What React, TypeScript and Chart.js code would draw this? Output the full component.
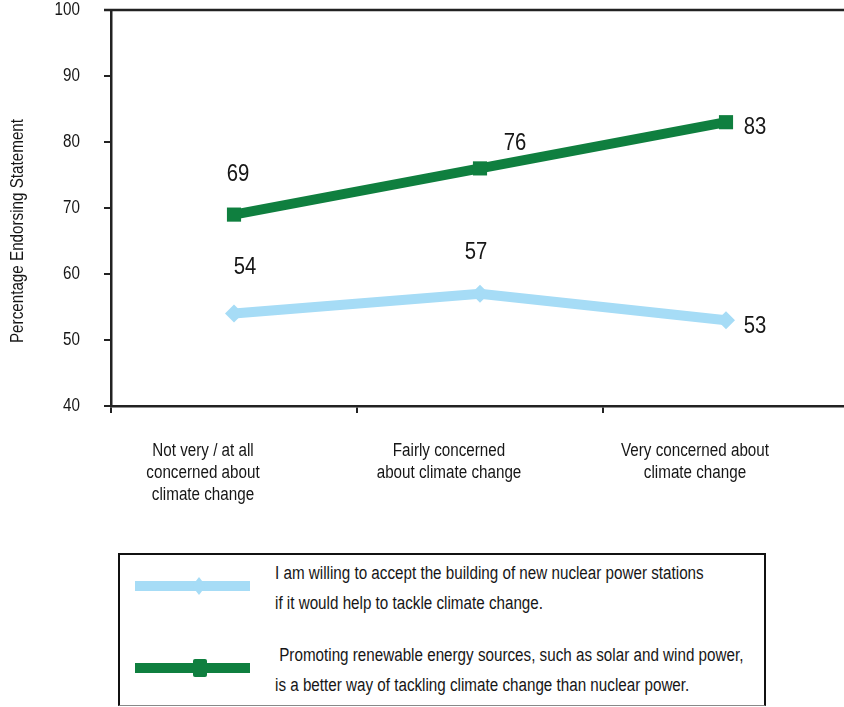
import React, { useEffect, useRef } from "react";
import { Chart, registerables } from "chart.js";

Chart.register(...registerables);

// Concern groups along the x axis (multi-line labels)
const categories: string[][] = [
  ["Not very / at all", "concerned about", "climate change"],
  ["Fairly concerned", "about climate change"],
  ["Very concerned about", "climate change"],
];

// Percentage endorsing each statement
const nuclearValues = [54, 57, 53];
const renewableValues = [69, 76, 83];

// Y axis range and step
const yMin = 40;
const yMax = 100;
const yStep = 10;

const yTitle = "Percentage Endorsing Statement";

const nuclearLegend = [
  "I am willing to accept the building of new nuclear power stations",
  "if it would help to tackle climate change.",
];
const renewableLegend = [
  " Promoting renewable energy sources, such as solar and wind power,",
  "is a better way of tackling climate change than nuclear power.",
];

const LIGHT_BLUE = "#a6dcf6";
const GREEN = "#0f7f3f";
const INK = "#161616";
const FONT = "'Liberation Sans', Arial, sans-serif";
// Horizontal squeeze giving the condensed face look
const NARROW = 0.845;

const CANVAS_W = 860;
const CANVAS_H = 540;

// Draws all canvas text horizontally condensed
const condensedText = {
  id: "condensedText",
  afterInit(chart: any) {
    const ctx = chart.ctx;
    const fill = ctx.fillText.bind(ctx);
    ctx.fillText = (text: string, x: number, y: number, maxWidth?: number) => {
      const w = ctx.measureText(text).width * NARROW;
      fill(text, x, y, maxWidth === undefined ? w : Math.min(w, maxWidth));
    };
  },
};

// Writes each point's value next to its marker
const valueLabels = {
  id: "valueLabels",
  afterDatasetsDraw(chart: any) {
    const ctx = chart.ctx;
    ctx.save();
    ctx.font = `24px ${FONT}`;
    ctx.fillStyle = INK;
    ctx.textAlign = "center";
    ctx.textBaseline = "middle";
    chart.data.datasets.forEach((ds: any, i: number) => {
      const meta = chart.getDatasetMeta(i);
      meta.data.forEach((pt: any, j: number) => {
        const [dx, dy] = ds.labelOffsets[j];
        ctx.fillText(String(ds.data[j]), pt.x + dx, pt.y + dy);
      });
    });
    ctx.restore();
  },
};

// Top frame line and the rotated y-axis title
const frame = {
  id: "frame",
  afterDraw(chart: any) {
    const { ctx, chartArea } = chart;
    ctx.save();
    ctx.strokeStyle = "#222";
    ctx.lineWidth = 2.5;
    ctx.beginPath();
    ctx.moveTo(chartArea.left - 7, chartArea.top);
    ctx.lineTo(chartArea.right, chartArea.top);
    ctx.stroke();

    ctx.translate(chartArea.left - 93, (chartArea.top + chartArea.bottom) / 2 + 23);
    ctx.rotate(-Math.PI / 2);
    ctx.font = `18px ${FONT}`;
    ctx.fillStyle = INK;
    ctx.textAlign = "center";
    ctx.textBaseline = "middle";
    ctx.fillText(yTitle, 0, 0);
    ctx.restore();
  },
};

function LegendSwatch({ color, marker, top }: { color: string; marker: "diamond" | "square"; top: number }) {
  return (
    <div style={{ position: "absolute", left: 0, top, width: "100%" }}>
      <div style={{ position: "absolute", left: 15, top: 0, width: 115, height: 10, background: color }} />
      {marker === "diamond" ? (
        <div
          style={{
            position: "absolute",
            left: 72,
            top: -4,
            width: 14,
            height: 18,
            background: color,
            clipPath: "polygon(50% 0, 100% 50%, 50% 100%, 0 50%)",
          }}
        />
      ) : (
        <div style={{ position: "absolute", left: 73, top: -4, width: 14, height: 18, background: color, borderRadius: 2 }} />
      )}
    </div>
  );
}

function LegendText({ lines, top }: { lines: string[]; top: number }) {
  return (
    <div
      style={{
        position: "absolute",
        left: 155,
        top,
        fontFamily: FONT,
        fontSize: 18,
        lineHeight: "30px",
        color: INK,
        whiteSpace: "pre",
        transform: `scaleX(${NARROW})`,
        transformOrigin: "left top",
      }}
    >
      {lines.map((l, i) => (
        <div key={i}>{l}</div>
      ))}
    </div>
  );
}

export default function App() {
  const canvasRef = useRef<HTMLCanvasElement | null>(null);

  useEffect(() => {
    const canvas = canvasRef.current;
    if (!canvas) return;
    const chart = new Chart(canvas, {
      type: "line",
      data: {
        labels: categories as any,
        datasets: [
          {
            label: nuclearLegend.join(" "),
            data: nuclearValues,
            borderColor: LIGHT_BLUE,
            backgroundColor: LIGHT_BLUE,
            borderWidth: 10,
            pointStyle: "rectRot",
            pointRadius: 9,
            pointBorderWidth: 0,
            pointBackgroundColor: LIGHT_BLUE,
            tension: 0,
            labelOffsets: [
              [11, -46],
              [-4, -41],
              [29, 6],
            ],
          } as any,
          {
            label: renewableLegend.join(" "),
            data: renewableValues,
            borderColor: GREEN,
            backgroundColor: GREEN,
            borderWidth: 10,
            pointStyle: "rect",
            pointRadius: 10,
            pointBorderWidth: 0,
            pointBackgroundColor: GREEN,
            tension: 0,
            labelOffsets: [
              [4, -40],
              [35, -25],
              [29, 5],
            ],
          } as any,
        ],
      },
      options: {
        animation: false,
        responsive: false,
        layout: { padding: { top: 8, right: CANVAS_W - 849, left: 0, bottom: 0 } },
        plugins: {
          legend: { display: false },
          tooltip: { enabled: false },
        },
        scales: {
          x: {
            type: "category",
            offset: true,
            grid: {
              offset: true,
              drawOnChartArea: false,
              drawTicks: true,
              tickLength: 7,
              color: "#222",
              lineWidth: 2,
            },
            border: { display: true, color: "#222", width: 2.5 },
            ticks: {
              font: { family: FONT, size: 18, lineHeight: 1.22 },
              color: INK,
              padding: 27,
              labelOffset: -31,
              maxRotation: 0,
              autoSkip: false,
            },
            afterFit(scale: any) {
              scale.height = CANVAS_H - 406;
              scale.paddingLeft = 0;
              scale.paddingRight = 0;
            },
          },
          y: {
            min: yMin,
            max: yMax,
            grid: {
              drawOnChartArea: false,
              drawTicks: true,
              tickLength: 7,
              color: "#222",
              lineWidth: 2,
            },
            border: { display: true, color: "#222", width: 2.5 },
            ticks: {
              stepSize: yStep,
              font: { family: FONT, size: 18 },
              color: INK,
              padding: 24,
            },
            afterFit(scale: any) {
              scale.width = 111;
              scale.paddingTop = 0;
              scale.paddingBottom = 0;
            },
          },
        },
      },
      plugins: [condensedText, valueLabels, frame],
    });
    return () => chart.destroy();
  }, []);

  return (
    <div
      style={{
        position: "absolute",
        left: 0,
        top: 0,
        width: 844,
        height: 707,
        overflow: "hidden",
        background: "#fff",
      }}
    >
      <canvas
        ref={canvasRef}
        width={CANVAS_W}
        height={CANVAS_H}
        style={{ position: "absolute", left: 0, top: 0, width: CANVAS_W, height: CANVAS_H }}
      />
      <div
        style={{
          position: "absolute",
          left: 118,
          top: 553,
          width: 644,
          height: 150,
          borderTop: "2px solid #111",
          borderLeft: "2px solid #111",
          borderRight: "2px solid #111",
          borderBottom: "1px solid #888",
        }}
      >
        <LegendSwatch color={LIGHT_BLUE} marker="diamond" top={26} />
        <LegendSwatch color={GREEN} marker="square" top={108} />
        <LegendText lines={nuclearLegend} top={3} />
        <LegendText lines={renewableLegend} top={85} />
      </div>
    </div>
  );
}
